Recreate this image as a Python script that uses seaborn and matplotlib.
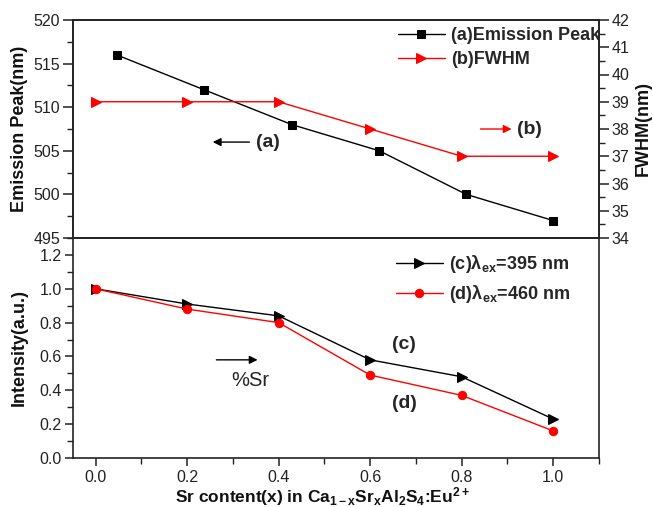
import numpy as np
import pandas as pd
import matplotlib
matplotlib.use("Agg")
import matplotlib.pyplot as plt
import seaborn as sns
from matplotlib.ticker import MultipleLocator

# ---- data ----
x_peak = [0.046, 0.237, 0.429, 0.620, 0.810, 1.0]
emission_peak = [516, 512, 508, 505, 500, 497]
x_fwhm = [0.0, 0.2, 0.4, 0.6, 0.8, 1.0]
fwhm = [39, 39, 39, 38, 37, 37]
x_int = [0.0, 0.2, 0.4, 0.6, 0.8, 1.0]
int_395 = [1.0, 0.91, 0.84, 0.58, 0.48, 0.23]
int_460 = [1.0, 0.88, 0.80, 0.49, 0.37, 0.16]

sns.set_theme(style="ticks")
plt.rcParams['font.family'] = ['Liberation Sans', 'DejaVu Sans']
plt.rcParams['mathtext.fontset'] = 'custom'
plt.rcParams['mathtext.rm'] = 'Liberation Sans'
plt.rcParams['mathtext.bf'] = 'Liberation Sans:bold'
plt.rcParams['mathtext.it'] = 'Liberation Sans:italic'

W, H = 653, 507
fig = plt.figure(figsize=(W / 100, H / 100), dpi=100)
left, right = 72.7, 599
top_t, mid, bot = 20, 238, 458
ax1 = fig.add_axes([left / W, 1 - mid / H, (right - left) / W, (mid - top_t) / H])
ax3 = fig.add_axes([left / W, 1 - bot / H, (right - left) / W, (bot - mid) / H])
ax2 = ax1.twinx()

df_a = pd.DataFrame({"x": x_peak, "y": emission_peak})
df_b = pd.DataFrame({"x": x_fwhm, "y": fwhm})
df_c = pd.DataFrame({"x": x_int, "y": int_395})
df_d = pd.DataFrame({"x": x_int, "y": int_460})

sns.lineplot(data=df_a, x="x", y="y", ax=ax1, color="black", marker="s", markersize=5.5,
             markeredgecolor="black", linewidth=1.0, sort=False, label="(a)Emission Peak", legend=False)
sns.lineplot(data=df_b, x="x", y="y", ax=ax2, color="red", marker=">", markersize=7,
             markeredgecolor="red", linewidth=1.0, sort=False, label="(b)FWHM", legend=False)
sns.lineplot(data=df_c, x="x", y="y", ax=ax3, color="black", marker=">", markersize=6.5,
             markeredgecolor="black", linewidth=1.0, sort=False,
             label="(c)λ$_{\\mathbf{ex}}$=395 nm", legend=False)
sns.lineplot(data=df_d, x="x", y="y", ax=ax3, color="red", marker="o", markersize=6,
             markeredgecolor="red", linewidth=1.0, sort=False,
             label="(d)λ$_{\\mathbf{ex}}$=460 nm", legend=False)

for ax in (ax1, ax2, ax3):
    ax.set_xlim(-0.05, 1.1)
    for s in ax.spines.values():
        s.set_linewidth(1.2)
        s.set_color("#222222")
        s.set_visible(True)

ax1.set_ylim(495, 520)
ax2.set_ylim(34, 42)
ax3.set_ylim(0, 1.3)

ax1.yaxis.set_major_locator(MultipleLocator(5))
ax1.yaxis.set_minor_locator(MultipleLocator(2.5))
ax2.yaxis.set_major_locator(MultipleLocator(1))
ax2.yaxis.set_minor_locator(MultipleLocator(0.5))
ax3.yaxis.set_major_locator(MultipleLocator(0.2))
ax3.yaxis.set_minor_locator(MultipleLocator(0.1))
ax3.xaxis.set_major_locator(MultipleLocator(0.2))
ax3.xaxis.set_minor_locator(MultipleLocator(0.1))
ax3.set_yticks([0.0, 0.2, 0.4, 0.6, 0.8, 1.0, 1.2])
ax3.yaxis.set_major_formatter(plt.FuncFormatter(lambda v, p: f"{v:.1f}"))
ax3.xaxis.set_major_formatter(plt.FuncFormatter(lambda v, p: f"{v:.1f}"))

tk = dict(direction="out", width=1.1, colors="#222222", labelsize=11.5, labelcolor="#222222")
ax1.tick_params(axis="y", which="major", length=7, left=True, right=False, pad=2, **tk)
ax1.tick_params(axis="y", which="minor", length=4, left=True, right=False, direction="out", width=1.0, colors="#222222")
ax1.tick_params(axis="x", which="both", bottom=False, top=False, labelbottom=False)
ax2.tick_params(axis="y", which="major", length=7, right=True, left=False, pad=2, **tk)
ax2.tick_params(axis="y", which="minor", length=4, right=True, left=False, direction="out", width=1.0, colors="#222222")
ax2.tick_params(axis="x", which="both", bottom=False, top=False, labelbottom=False)
ax3.tick_params(axis="both", which="major", length=6, left=True, bottom=True, right=False, top=False, pad=2, **tk)
ax3.tick_params(axis="both", which="minor", length=4, left=True, bottom=True, right=False, top=False,
                direction="out", width=1.0, colors="#222222")
ax3.tick_params(axis="x", pad=3)

ax1.set_xlabel("")
ax2.set_xlabel("")
lab = dict(fontsize=13, fontweight="bold", color="#111111")
ax1.set_ylabel("Emission Peak(nm)", **lab)
ax2.set_ylabel("FWHM(nm)", **lab)
ax3.set_ylabel("Intensity(a.u.)", **lab)
ax1.yaxis.set_label_coords(-0.085, 0.5)
ax3.yaxis.set_label_coords(-0.085, 0.5)
ax2.yaxis.set_label_coords(1.068, 0.5)
ax3.set_xlabel(r"Sr content(x) in Ca$_{\mathbf{1-x}}$Sr$_{\mathbf{x}}$Al$_{\mathbf{2}}$S$_{\mathbf{4}}$:Eu$^{\mathbf{2+}}$",
               fontsize=12.5, fontweight="bold", color="#111111")
ax3.xaxis.set_label_coords(0.475, -0.121)
ax3.xaxis.label.set_va("top")

# legends
h1, l1 = ax1.get_legend_handles_labels()
h2, l2 = ax2.get_legend_handles_labels()
leg1 = ax2.legend(h1 + h2, l1 + l2, loc="upper left", bbox_to_anchor=(398 / W, 1 - 27 / H),
                  bbox_transform=fig.transFigure, frameon=False, borderpad=0, borderaxespad=0,
                  handlelength=2.6, handletextpad=0.35, labelspacing=0.4,
                  prop={"weight": "bold", "size": 13})
h3, l3 = ax3.get_legend_handles_labels()
leg3 = ax3.legend(h3, l3, loc="upper left", bbox_to_anchor=(396 / W, 1 - 253 / H),
                  bbox_transform=fig.transFigure, frameon=False, borderpad=0, borderaxespad=0,
                  handlelength=2.6, handletextpad=0.35, labelspacing=0.45,
                  prop={"weight": "bold", "size": 13})

# annotations
arr = dict(arrowstyle="-|>", color="black", lw=1.0, mutation_scale=12, shrinkA=0, shrinkB=0)
ax1.annotate("", xy=(0.256, 506.0), xytext=(0.336, 506.0), arrowprops=arr)
ax1.text(0.350, 506.0, "(a)", fontsize=14, fontweight="bold", va="center", ha="left")
arr_r = dict(arr, color="red")
ax2.annotate("", xy=(0.909, 38.0), xytext=(0.841, 38.0), arrowprops=arr_r)
ax2.text(0.921, 37.97, "(b)", fontsize=14, fontweight="bold", va="center", ha="left")
ax3.annotate("", xy=(0.354, 0.58), xytext=(0.264, 0.58), arrowprops=arr)
ax3.text(0.339, 0.46, "%Sr", fontsize=14.5, va="center", ha="center")
ax3.text(0.674, 0.668, "(c)", fontsize=14, fontweight="bold", va="center", ha="center")
ax3.text(0.674, 0.325, "(d)", fontsize=14, fontweight="bold", va="center", ha="center")

fig.savefig("out.png", dpi=100)
